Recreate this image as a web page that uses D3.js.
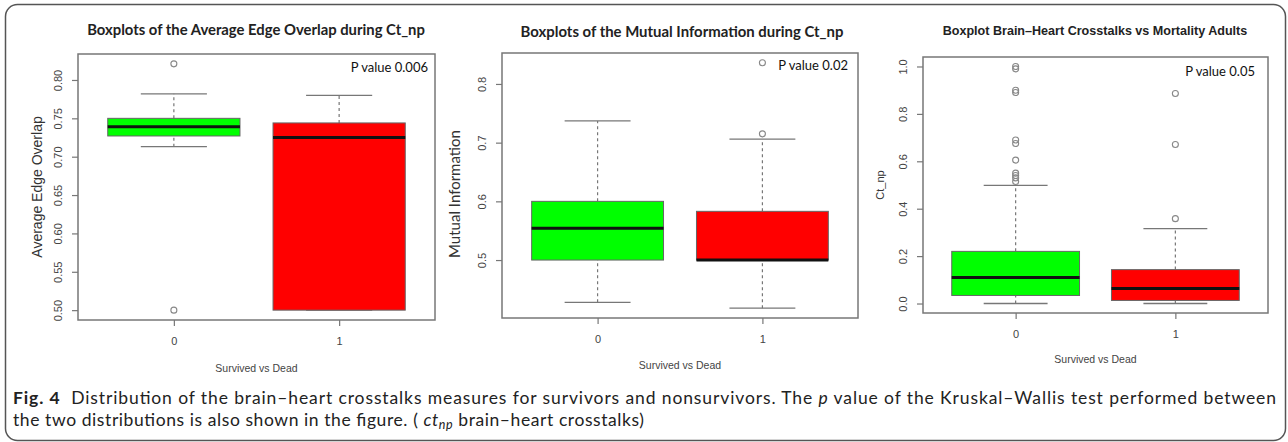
<!DOCTYPE html>
<html>
<head>
<meta charset="utf-8">
<script src="https://cdn.jsdelivr.net/npm/d3@7"></script>
<style>
  body { margin: 0; background: #fff; }
  svg { display: block; }
</style>
</head>
<body>
<svg width="1288" height="442"></svg>
<script>
const groups = ['0', '1'];
const boxColors = ['#00ff00', '#ff0000'];

// each row: lower whisker, Q1, median, Q3, upper whisker
const overlapStats = [[0.713, 0.727, 0.739, 0.750, 0.782], [0.500, 0.500, 0.725, 0.744, 0.780]];
const overlapOutliers = [[0.821, 0.500], []];
const overlapTicks = [0.50, 0.55, 0.60, 0.65, 0.70, 0.75, 0.80];

const mutualStats = [[0.428, 0.500, 0.554, 0.600, 0.737], [0.418, 0.500, 0.500, 0.583, 0.706]];
const mutualOutliers = [[], [0.836, 0.715]];
const mutualTicks = [0.5, 0.6, 0.7, 0.8];

const crossStats = [[0.000, 0.034, 0.110, 0.220, 0.498], [0.000, 0.013, 0.063, 0.143, 0.316]];
const crossOutliers = [[1.000, 0.990, 0.900, 0.890, 0.690, 0.675, 0.605, 0.550, 0.540, 0.530, 0.515], [0.886, 0.671, 0.358]];
const crossTicks = [0.0, 0.2, 0.4, 0.6, 0.8, 1.0];

const panels = [
    {title: 'Boxplots of the Average Edge Overlap during Ct_np', titleFont: 'Lato', titleW: 338, titleX: 256, titleY: 35,
     ylab: 'Average Edge Overlap', ylabFont: 'Liberation Sans', ylabSize: 14, ylabX: 37, ylabY: 187,
     pval: 'P value 0.006', pvalX: 428, pvalY: 72,
     stats: overlapStats, outliers: overlapOutliers, ticks: overlapTicks, fmt: '.2f',
     left: 78, right: 435, top: 54, bottom: 320, xlabY: 372},
    {title: 'Boxplots of the Mutual Information during Ct_np', titleFont: 'Lato', titleW: 323, titleX: 682, titleY: 37,
     ylab: 'Mutual Information', ylabFont: 'Lato', ylabSize: 15, ylabX: 455, ylabY: 194,
     pval: 'P value 0.02', pvalX: 848, pvalY: 70,
     stats: mutualStats, outliers: mutualOutliers, ticks: mutualTicks, fmt: '.1f',
     left: 502, right: 858, top: 53, bottom: 318, xlabY: 369},
    {title: 'Boxplot Brain\u2013Heart Crosstalks vs Mortality Adults', titleFont: 'Liberation Sans', titleW: 305, titleX: 1095, titleY: 35,
     ylab: 'Ct_np', ylabFont: 'Liberation Sans', ylabSize: 11, ylabX: 880, ylabY: 185,
     pval: 'P value 0.05', pvalX: 1255, pvalY: 76,
     stats: crossStats, outliers: crossOutliers, ticks: crossTicks, fmt: '.1f',
     left: 923, right: 1268, top: 57, bottom: 313, xlabY: 363}
];

const svg = d3.select('svg');

// outer rounded frame of the figure
svg.append('rect')
    .attr('x', 5.5).attr('y', 4.5)
    .attr('width', 1280).attr('height', 436)
    .attr('rx', 12)
    .attr('fill', 'none')
    .attr('stroke', '#555')
    .attr('stroke-width', 1.5);

// shrink/grow a text's font so it spans the wanted width
function fitWidth(sel, width) {
    let fs = parseFloat(sel.attr('font-size')),
        w = sel.node().getComputedTextLength();
    sel.attr('font-size', fs * width / w);
    return fs * width / w;
}

panels.forEach(drawPanel);

function drawPanel(p) {
    let g = svg.append('g');
    let all = p.stats.flat().concat(p.outliers.flat()),
        lo = d3.min(all), hi = d3.max(all), pad = (hi - lo) * 0.04;

    let x = d3.scaleLinear().domain([0.42, 2.58]).range([p.left, p.right]),
        y = d3.scaleLinear().domain([lo - pad, hi + pad]).range([p.bottom, p.top]);

    groups.forEach((grp, i) => {
        let s = p.stats[i], cx = x(i + 1),
            bx0 = x(i + 0.6), bx1 = x(i + 1.4),
            cw = (bx1 - bx0) / 4;

        // whiskers (dashed)
        [[s[0], s[1]], [s[3], s[4]]].forEach(w => {
            g.append('line')
                .attr('x1', cx).attr('x2', cx)
                .attr('y1', y(w[0])).attr('y2', y(w[1]))
                .attr('stroke', '#777').attr('stroke-width', 1.2)
                .attr('stroke-dasharray', '3,3');
        });
        // staples
        [s[0], s[4]].forEach(v => {
            g.append('line')
                .attr('x1', cx - cw).attr('x2', cx + cw)
                .attr('y1', y(v)).attr('y2', y(v))
                .attr('stroke', '#777').attr('stroke-width', 1.3);
        });
        g.append('rect')
            .attr('x', bx0).attr('y', y(s[3]))
            .attr('width', bx1 - bx0)
            .attr('height', y(s[1]) - y(s[3]))
            .attr('fill', boxColors[i])
            .attr('stroke', '#666').attr('stroke-width', 1);
        g.append('line')
            .attr('x1', bx0).attr('x2', bx1)
            .attr('y1', y(s[2])).attr('y2', y(s[2]))
            .attr('stroke', '#111').attr('stroke-width', 3);

        g.selectAll(null)
            .data(p.outliers[i])
            .enter()
            .append('circle')
            .attr('cx', cx)
            .attr('cy', d => y(d))
            .attr('r', 3)
            .attr('fill', 'none')
            .attr('stroke', '#888')
            .attr('stroke-width', 1.1);
    });

    // y axis with R style vertical labels
    let ya = g.append('g')
        .attr('transform', `translate(${p.left},0)`)
        .call(d3.axisLeft(y).tickValues(p.ticks).tickSize(6).tickFormat(d3.format(p.fmt)));
    ya.select('.domain').remove();
    ya.selectAll('line').attr('stroke', '#777').attr('stroke-width', 1.2);
    ya.selectAll('text')
        .attr('x', 0).attr('dy', 0)
        .attr('transform', 'translate(-16,0) rotate(-90)')
        .attr('text-anchor', 'middle')
        .attr('font-family', 'Liberation Sans')
        .attr('font-size', 11)
        .attr('fill', '#444');

    let xa = g.append('g')
        .attr('transform', `translate(0,${p.bottom})`)
        .call(d3.axisBottom(x).tickValues([1, 2]).tickSize(6).tickFormat(d => groups[d - 1]));
    xa.select('.domain').remove();
    xa.selectAll('line').attr('stroke', '#777').attr('stroke-width', 1.2);
    xa.selectAll('text')
        .attr('y', 25).attr('dy', 0)
        .attr('font-family', 'Liberation Sans')
        .attr('font-size', 11)
        .attr('fill', '#444');

    // plot frame
    g.append('rect')
        .attr('x', p.left).attr('y', p.top)
        .attr('width', p.right - p.left)
        .attr('height', p.bottom - p.top)
        .attr('fill', 'none')
        .attr('stroke', '#777')
        .attr('stroke-width', 1.5);

    let t = g.append('text')
        .attr('x', p.titleX).attr('y', p.titleY)
        .attr('text-anchor', 'middle')
        .attr('font-family', p.titleFont)
        .attr('font-weight', 'bold')
        .attr('font-size', 14)
        .attr('fill', '#222')
        .text(p.title);
    fitWidth(t, p.titleW);

    g.append('text')
        .attr('transform', `translate(${p.ylabX + p.ylabSize * 0.35},${p.ylabY}) rotate(-90)`)
        .attr('text-anchor', 'middle')
        .attr('font-family', p.ylabFont)
        .attr('font-size', p.ylabSize)
        .attr('fill', '#333')
        .text(p.ylab);

    g.append('text')
        .attr('x', (p.left + p.right) / 2).attr('y', p.xlabY)
        .attr('text-anchor', 'middle')
        .attr('font-family', 'Liberation Sans')
        .attr('font-size', 10.5)
        .attr('fill', '#444')
        .text('Survived vs Dead');

    g.append('text')
        .attr('x', p.pvalX).attr('y', p.pvalY)
        .attr('text-anchor', 'end')
        .attr('font-family', 'Lato')
        .attr('font-size', 13)
        .attr('fill', '#111')
        .text(p.pval);
}

// caption, two lines stretched to the widths of the original
let cap1 = svg.append('text')
    .attr('x', 13).attr('y', 404)
    .attr('font-family', 'Lato')
    .attr('font-size', 17.5)
    .attr('textLength', 1263)
    .attr('lengthAdjust', 'spacing')
    .attr('fill', '#222');
cap1.append('tspan').attr('font-weight', 'bold').text('Fig. 4');
cap1.append('tspan').text('\u00a0 Distribution of the brain\u2013heart crosstalks measures for survivors and nonsurvivors. The ');
cap1.append('tspan').attr('font-style', 'italic').text('p');
cap1.append('tspan').text(' value of the Kruskal\u2013Wallis test performed between');

let cap2 = svg.append('text')
    .attr('x', 13).attr('y', 426)
    .attr('font-family', 'Lato')
    .attr('font-size', 17.5)
    .attr('textLength', 631)
    .attr('lengthAdjust', 'spacing')
    .attr('fill', '#222');
cap2.append('tspan').text('the two distributions is also shown in the figure. ( ');
cap2.append('tspan').attr('font-style', 'italic').text('ct');
cap2.append('tspan').attr('font-style', 'italic').attr('font-size', 12.5).attr('dy', 3).text('np');
cap2.append('tspan').attr('dy', -3).text(' brain\u2013heart crosstalks)');
</script>
</body>
</html>
